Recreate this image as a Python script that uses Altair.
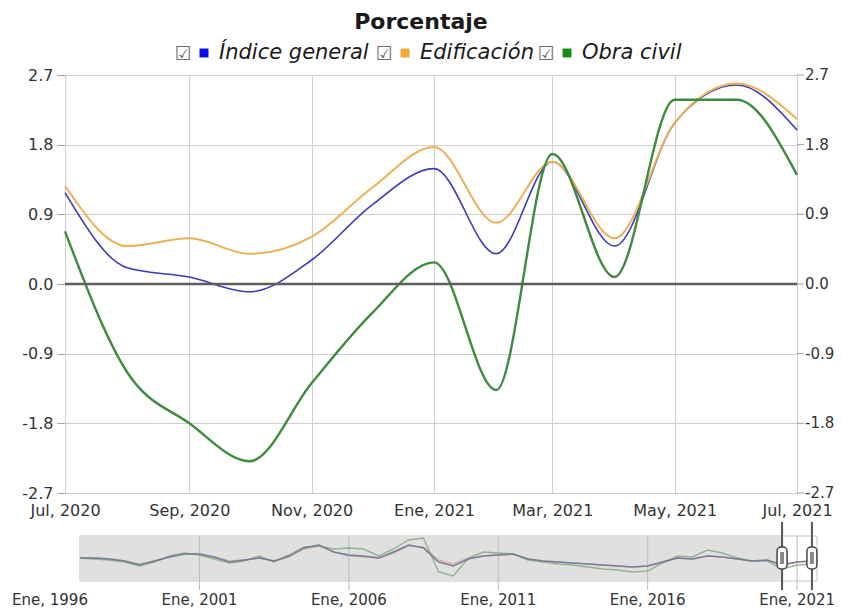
import altair as alt
import pandas as pd

# ---------------- data ----------------
months = ["2020-07-01", "2020-08-01", "2020-09-01", "2020-10-01", "2020-11-01", "2020-12-01",
          "2021-01-01", "2021-02-01", "2021-03-01", "2021-04-01", "2021-05-01", "2021-06-01",
          "2021-07-01"]
indice_general = [1.18, 0.21, 0.09, -0.10, 0.31, 1.02, 1.49, 0.39, 1.58, 0.49, 2.08, 2.57, 1.99]
edificacion = [1.27, 0.49, 0.59, 0.39, 0.61, 1.24, 1.77, 0.79, 1.58, 0.59, 2.08, 2.59, 2.13]
obra_civil = [0.68, -1.14, -1.80, -2.29, -1.28, -0.38, 0.28, -1.37, 1.68, 0.09, 2.38, 2.38, 1.41]

series = ["Índice general", "Edificación", "Obra civil"]
line_colors = ["#3b3bb8", "#ebb158", "#3f8b3f"]
legend_colors = ["#0b0be8", "#f2a833", "#168c16"]
nav_colors = ["#6f7598", "#d2ad98", "#84b084"]

y_ticks = [-2.7, -1.8, -0.9, 0.0, 0.9, 1.8, 2.7]
x_ticks = [(2020, 7), (2020, 9), (2020, 11), (2021, 1), (2021, 3), (2021, 5), (2021, 7)]
meses = ["Ene", "Feb", "Mar", "Abr", "May", "Jun", "Jul", "Ago", "Sep", "Oct", "Nov", "Dic"]

# navigator (whole history, half-year resolution)
nav_dates = [f"{y}-{m:02d}-01" for y in range(1997, 2022) for m in (1, 7)]
nav_indice = [0, 0, -0.25, -0.75, -1.75, -0.75, 0.25, 1, 1, 0.25, -1, -0.5, 0, -0.75, 0.5, 2.5,
              3.25, 1.5, 0.75, 0.5, 0, 1.5, 3.25, 2.5, -1, -2, -0.25, 0.5, 0.75, 1, -0.25, -0.75,
              -1, -1.25, -1.5, -1.75, -2, -2.25, -2, -1, 0, -0.25, 0.5, 0.25, -0.25, -0.75, -0.5,
              -1.75, -1, -0.75]
nav_edif = [0, 0, -0.25, -0.75, -1.5, -0.75, 0.25, 1, 1, 0.25, -0.75, -0.5, 0, -0.75, 0.25, 2.25,
            3, 1.5, 0.5, 0.25, 0, 1.25, 3, 2.75, -0.5, -1.5, 0, 0.5, 0.75, 1, -0.25, -0.75,
            -1, -1.25, -1.5, -1.75, -2, -2.25, -2, -1, 0, -0.25, 0.5, 0.25, -0.25, -0.75, -0.5,
            -1.75, -1, -0.75]
nav_obra = [0, -0.25, -0.5, -1, -2, -1, 0.5, 1.25, 0.75, -0.25, -1.25, -0.75, 0.5, -1, 0.75, 2.75,
            3, 2.25, 2.5, 2.25, 0.5, 2.25, 4.5, 5, -3.5, -4.5, 0, 1.5, 1.25, 1, -0.5, -1,
            -1.5, -1.75, -2.25, -2.75, -3, -3.5, -3.25, -1.25, 0.5, 0.25, 2, 1.25, 0, -0.75, -0.75,
            -2.75, -1.75, -1.5]
nav_years = [1996, 2001, 2006, 2011, 2016, 2021]
window = [(2020, 7), (2021, 7)]

# ---------------- tables ----------------
def ts(s):
    return s + "T00:00:00"

main_df = pd.DataFrame({
    "fecha": [ts(m) for m in months] * 3,
    "serie": [s for s in series for _ in months],
    "valor": indice_general + edificacion + obra_civil,
})
# draw order in the navigator: lighter series first, general index on top
nav_order = [series[1], series[2], series[0]]
nav_vals = {series[0]: nav_indice, series[1]: nav_edif, series[2]: nav_obra}
nav_df = pd.DataFrame({
    "fecha": [ts(d) for d in nav_dates] * 3,
    "serie": [s for s in nav_order for _ in nav_dates],
    "valor": [v for s in nav_order for v in nav_vals[s]],
    "orden": [i for i, s in enumerate(nav_order) for _ in nav_dates],
})
ytick_df = pd.DataFrame({"v": y_ticks, "lab": [f"{v:.1f}" for v in y_ticks]})
zero_df = pd.DataFrame({"v": [0.0]})

W, H = 732, 418
FONT = "DejaVu Sans"
LABEL = "#333333"

def dt(y, m):
    return alt.DateTime(year=y, month=m, date=1)

mes_expr = "[" + ",".join(f"'{m}'" for m in meses) + "][month(datum.value)] + ', ' + year(datum.value)"

x_main = alt.X("fecha:T",
               scale=alt.Scale(domain=[dt(2020, 7), dt(2021, 7)], nice=False),
               axis=alt.Axis(values=[dt(y, m) for y, m in x_ticks], labelExpr=mes_expr,
                             title=None, grid=True, gridColor="#cfcfcf", ticks=False,
                             domain=False, labelPadding=9, labelFontSize=16, labelColor=LABEL,
                             labelFont=FONT, labelOverlap=False, labelBound=False,
                             labelFlush=False))
y_scale = alt.Scale(domain=[-2.7, 2.7], nice=False, zero=False)
y_main = alt.Y("valor:Q", scale=y_scale,
               axis=alt.Axis(values=y_ticks, title=None, grid=True, gridColor="#cfcfcf",
                             tickSize=8, tickColor="#a0a0a0", domain=False, labelPadding=4,
                             labelFontSize=16, labelColor=LABEL, labelFont=FONT,
                             labelFlush=False,
                             labelExpr="(datum.value < 0 ? '-' : '') + format(abs(datum.value), '.1f')"))

lines = alt.Chart(main_df).mark_line(interpolate="monotone").encode(
    x=x_main, y=y_main,
    color=alt.Color("serie:N", scale=alt.Scale(domain=series, range=line_colors), legend=None),
    size=alt.Size("serie:N", scale=alt.Scale(domain=series, range=[1.6, 2.4, 1.5]), legend=None),
)
zero = alt.Chart(zero_df).mark_rule(color="#5e5e5e", strokeWidth=2.5).encode(
    y=alt.Y("v:Q", scale=y_scale), x=alt.value(0), x2=alt.value(W))

right_ticks = alt.Chart(ytick_df).mark_rule(color="#a0a0a0").encode(
    y=alt.Y("v:Q", scale=y_scale), x=alt.value(W), x2=alt.value(W + 7))
right_labels = alt.Chart(ytick_df).mark_text(align="left", baseline="middle", fontSize=15,
                                             font=FONT, color=LABEL).encode(
    y=alt.Y("v:Q", scale=y_scale), x=alt.value(W + 8), text="lab:N")

title = alt.Chart(pd.DataFrame({"t": ["Porcentaje"]})).mark_text(
    fontSize=22, fontWeight="bold", font=FONT, color="#1a1a1a", baseline="alphabetic").encode(
    x=alt.value(W / 2 - 10), y=alt.value(-46), text="t:N")

legend_layers = []
legend_x = [118, 319, 481]
for i, name in enumerate(series):
    lx = legend_x[i]
    item = pd.DataFrame({"name": [name], "chk": ["☑"]})
    legend_layers.append(alt.Chart(item).mark_text(fontSize=19, font=FONT, color="#6a6a6a",
                                                   baseline="middle").encode(
        x=alt.value(lx), y=alt.value(-21), text="chk:N"))
    legend_layers.append(alt.Chart(item).mark_point(shape="square", filled=True, size=80,
                                                    opacity=1, color=legend_colors[i]).encode(
        x=alt.value(lx + 21), y=alt.value(-22)))
    legend_layers.append(alt.Chart(item).mark_text(fontSize=21, font=FONT, fontStyle="italic",
                                                   color="#1a1a1a", align="left",
                                                   baseline="middle").encode(
        x=alt.value(lx + 36), y=alt.value(-22), text="name:N"))

main = alt.layer(lines, zero, right_ticks, right_labels, title, *legend_layers)

# ---------------- navigator ----------------
NAV_LO, NAV_HI = -5.75, 5.5
nx_scale = alt.Scale(domain=[dt(1996, 1), alt.DateTime(year=2021, month=9, date=1)],
                     range=[-15, 752], nice=False)
ny_scale = alt.Scale(domain=[NAV_LO, NAV_HI], range=[506, 461], nice=False, zero=False)

box_df = pd.DataFrame({"a": [ts("1997-01-01")], "b": [ts("2021-09-01")],
                       "lo": [NAV_LO], "hi": [NAV_HI]})
shade_df = pd.DataFrame({"a": [ts("1997-01-01")], "b": [ts("2020-07-01")],
                         "lo": [NAV_LO], "hi": [NAV_HI]})
years_df = pd.DataFrame({"f": [ts(f"{y}-01-01") for y in nav_years],
                         "lab": [f"{meses[0]}, {y}" for y in nav_years]})
win_df = pd.DataFrame({"f": [ts(f"{y}-{m:02d}-01") for y, m in window]})

box = alt.Chart(box_df).mark_rect(fill="white", stroke="#c4c4c4", strokeWidth=1).encode(
    x=alt.X("a:T", scale=nx_scale, axis=None), x2="b:T",
    y=alt.Y("lo:Q", scale=ny_scale, axis=None), y2="hi:Q")
shade = alt.Chart(shade_df).mark_rect(fill="#e0e0e0").encode(
    x=alt.X("a:T", scale=nx_scale, axis=None), x2="b:T",
    y=alt.Y("lo:Q", scale=ny_scale, axis=None), y2="hi:Q")
grid = alt.Chart(years_df[years_df.index > 0]).mark_rule(color="#bcbcbc").encode(
    x=alt.X("f:T", scale=nx_scale, axis=None), y=alt.value(461), y2=alt.value(515))
nav_lines = alt.Chart(nav_df).mark_line(strokeWidth=1.4, opacity=0.9).encode(
    x=alt.X("fecha:T", scale=nx_scale, axis=None),
    y=alt.Y("valor:Q", scale=ny_scale, axis=None),
    color=alt.Color("serie:N", scale=alt.Scale(domain=series, range=nav_colors), legend=None),
    order=alt.Order("orden:Q"),
)
nav_labels = alt.Chart(years_df).mark_text(fontSize=15, font=FONT, color=LABEL,
                                           baseline="middle").encode(
    x=alt.X("f:T", scale=nx_scale, axis=None), y=alt.value(525), text="lab:N")
handle_line = alt.Chart(win_df).mark_rule(color="#555555", strokeWidth=2).encode(
    x=alt.X("f:T", scale=nx_scale, axis=None), y=alt.value(447), y2=alt.value(515))
handle_box = alt.Chart(win_df).mark_rect(width=10, height=22, cornerRadius=4, fill="white",
                                         stroke="#444444", strokeWidth=1.5).encode(
    x=alt.X("f:T", scale=nx_scale, axis=None), y=alt.value(483))
handle_bar = alt.Chart(win_df).mark_rect(width=4, height=12, fill="#888888").encode(
    x=alt.X("f:T", scale=nx_scale, axis=None), y=alt.value(483))

nav = alt.layer(box, shade, grid, nav_lines, nav_labels, handle_line, handle_box, handle_bar)

chart = alt.layer(main, nav).resolve_scale(
    x="independent", y="independent", color="independent", size="independent"
).properties(
    width=W, height=H,
    padding={"left": 57, "top": 67, "right": 37, "bottom": 119},
    autosize=alt.AutoSizeParams(type="none"),
).configure_view(stroke=None).configure(font=FONT)

chart.save("out.html", embed_options={"renderer": "svg", "actions": False})
